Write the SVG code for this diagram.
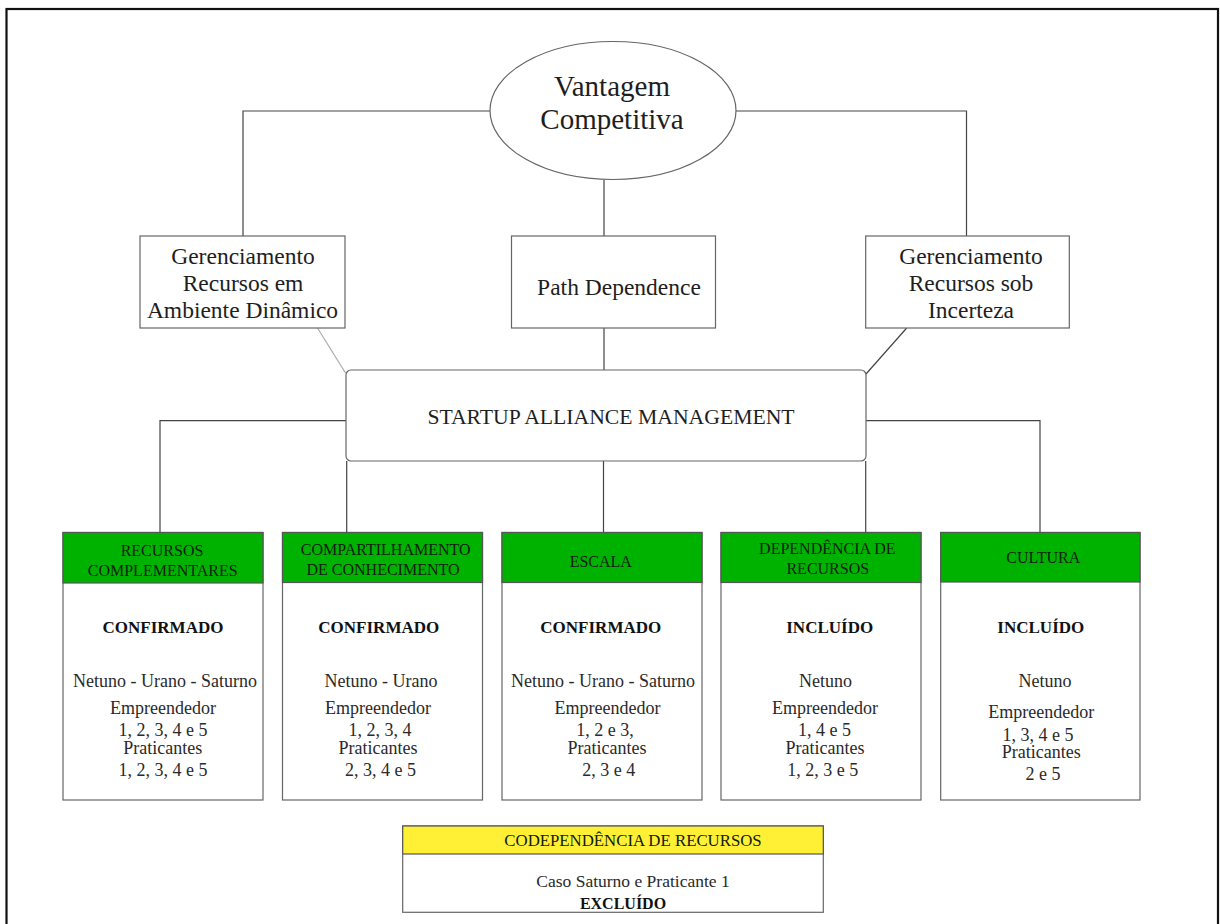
<svg xmlns="http://www.w3.org/2000/svg" width="1220" height="924" viewBox="0 0 1220 924">
  <style>
    text { font-family: "Liberation Serif", "Times New Roman", serif; text-anchor: middle; fill: #1e1e1e; }
    .title { font-size: 29px; }
    .upper { font-size: 23.5px; }
    .sam { font-size: 21.7px; }
    .hdr { font-size: 16px; fill: #102010; }
    .body { font-size: 18px; fill: #2a2a2a; }
    .status { font-size: 17px; font-weight: bold; fill: #111; }
    .box { fill: #fff; stroke: #666; stroke-width: 1.2; }
    .green { fill: #00b200; stroke: #555; stroke-width: 1.2; }
    .yellow { fill: #fff035; stroke: #555; stroke-width: 1.2; }
    .conn { fill: none; stroke: #444; stroke-width: 1.2; }
    .conn-light { fill: none; stroke: #aaa; stroke-width: 1.2; }
  </style>

  <rect width="1220" height="924" fill="#fff"/>
  <!-- outer frame -->
  <rect x="6.5" y="9" width="1211.5" height="930" fill="none" stroke="#111" stroke-width="2.2"/>

  <!-- connectors -->
  <g id="connectors">
    <polyline class="conn" points="490,111 243,111 243,236"/>
    <polyline class="conn" points="735,111 966.5,111 966.5,236"/>
    <line class="conn" x1="604" y1="179.5" x2="604" y2="236"/>
    <line class="conn" x1="604" y1="328" x2="604" y2="370"/>
    <line class="conn-light" x1="317.5" y1="328" x2="345.5" y2="373"/>
    <line class="conn" x1="906.7" y1="328" x2="866" y2="374"/>
    <polyline class="conn" points="346,420.7 160,420.7 160,532.5"/>
    <polyline class="conn" points="866,420.7 1040,420.7 1040,532.5"/>
    <line class="conn" x1="346.7" y1="461" x2="346.7" y2="532.5"/>
    <line class="conn" x1="603.5" y1="461" x2="603.5" y2="532.5"/>
    <line class="conn" x1="865.7" y1="461" x2="865.7" y2="532.5"/>
  </g>

  <g id="vantagem">
    <ellipse cx="613" cy="110.5" rx="123" ry="69" fill="#fff" stroke="#666" stroke-width="1.2"/>
    <text class="title" x="612" y="95.7">Vantagem</text>
    <text class="title" x="612" y="129">Competitiva</text>
  </g>

  <g id="ger-dinamico">
    <rect class="box" x="140" y="236" width="205" height="92"/>
    <text class="upper" x="243" y="264.3">Gerenciamento</text>
    <text class="upper" x="243" y="291">Recursos em</text>
    <text class="upper" x="242.5" y="317.7">Ambiente Dinâmico</text>
  </g>

  <g id="path-dependence">
    <rect class="box" x="511.5" y="236" width="204" height="92"/>
    <text class="upper" x="619" y="295">Path Dependence</text>
  </g>

  <g id="ger-incerteza">
    <rect class="box" x="865.7" y="236" width="203.6" height="92"/>
    <text class="upper" x="971" y="264.3">Gerenciamento</text>
    <text class="upper" x="971" y="291">Recursos sob</text>
    <text class="upper" x="971" y="317.7">Incerteza</text>
  </g>

  <g id="startup-alliance">
    <rect class="box" x="346" y="370" width="520" height="91" rx="5"/>
    <text class="sam" x="611" y="424.3">STARTUP ALLIANCE MANAGEMENT</text>
  </g>

  <g id="recursos-complementares">
    <rect class="box" x="63" y="532.5" width="200" height="267.5"/>
    <rect class="green" x="63" y="532.5" width="200" height="50.5"/>
    <text class="hdr" x="162" y="555.7">RECURSOS</text>
    <text class="hdr" x="162.7" y="575.7">COMPLEMENTARES</text>
    <text class="status" x="163" y="633">CONFIRMADO</text>
    <text class="body" x="165" y="686.7">Netuno - Urano - Saturno</text>
    <text class="body" x="163" y="714.3">Empreendedor</text>
    <text class="body" x="163" y="736">1, 2, 3, 4 e 5</text>
    <text class="body" x="162.7" y="754.3">Praticantes</text>
    <text class="body" x="163" y="776">1, 2, 3, 4 e 5</text>
  </g>

  <g id="compartilhamento">
    <rect class="box" x="282.5" y="532.5" width="200" height="267.5"/>
    <rect class="green" x="282.5" y="532.5" width="200" height="50"/>
    <text class="hdr" x="385.7" y="555">COMPARTILHAMENTO</text>
    <text class="hdr" x="383" y="575">DE CONHECIMENTO</text>
    <text class="status" x="378.8" y="633">CONFIRMADO</text>
    <text class="body" x="381" y="686.7">Netuno - Urano</text>
    <text class="body" x="378" y="714.3">Empreendedor</text>
    <text class="body" x="380" y="736">1, 2, 3, 4</text>
    <text class="body" x="378" y="754.3">Praticantes</text>
    <text class="body" x="380.5" y="776">2, 3, 4 e 5</text>
  </g>

  <g id="escala">
    <rect class="box" x="502" y="532.5" width="200" height="267.5"/>
    <rect class="green" x="502" y="532.5" width="200" height="50"/>
    <text class="hdr" x="600.8" y="566.7">ESCALA</text>
    <text class="status" x="600.8" y="633">CONFIRMADO</text>
    <text class="body" x="603" y="686.7">Netuno - Urano - Saturno</text>
    <text class="body" x="607.5" y="714.3">Empreendedor</text>
    <text class="body" x="605" y="736">1, 2 e 3,</text>
    <text class="body" x="607" y="754.3">Praticantes</text>
    <text class="body" x="608.7" y="776">2, 3 e 4</text>
  </g>

  <g id="dependencia">
    <rect class="box" x="721" y="532.5" width="200" height="267.5"/>
    <rect class="green" x="721" y="532.5" width="200" height="50"/>
    <text class="hdr" x="827.3" y="554">DEPENDÊNCIA DE</text>
    <text class="hdr" x="827.8" y="574">RECURSOS</text>
    <text class="status" x="829.7" y="633">INCLUÍDO</text>
    <text class="body" x="825.5" y="686.7">Netuno</text>
    <text class="body" x="825" y="714.3">Empreendedor</text>
    <text class="body" x="824.5" y="736">1, 4 e 5</text>
    <text class="body" x="825" y="754.3">Praticantes</text>
    <text class="body" x="822.7" y="776">1, 2, 3 e 5</text>
  </g>

  <g id="cultura">
    <rect class="box" x="940.7" y="532.5" width="199.3" height="267.5"/>
    <rect class="green" x="940.7" y="532.5" width="199.3" height="49.5"/>
    <text class="hdr" x="1043.3" y="563.3">CULTURA</text>
    <text class="status" x="1040.8" y="633">INCLUÍDO</text>
    <text class="body" x="1045" y="686.7">Netuno</text>
    <text class="body" x="1041.3" y="718.3">Empreendedor</text>
    <text class="body" x="1038" y="740.7">1, 3, 4 e 5</text>
    <text class="body" x="1041.3" y="758.3">Praticantes</text>
    <text class="body" x="1043" y="780">2 e 5</text>
  </g>

  <g id="codependencia">
    <rect class="box" x="402.7" y="826" width="420.6" height="86.3"/>
    <rect class="yellow" x="402.7" y="826" width="420.6" height="28"/>
    <text class="hdr" x="633" y="845.7" style="font-size:16.8px">CODEPENDÊNCIA DE RECURSOS</text>
    <text class="body" x="633" y="887.3" style="font-size:17.5px">Caso Saturno e Praticante 1</text>
    <text class="status" x="623" y="909.3" style="font-size:16px">EXCLUÍDO</text>
  </g>
</svg>
